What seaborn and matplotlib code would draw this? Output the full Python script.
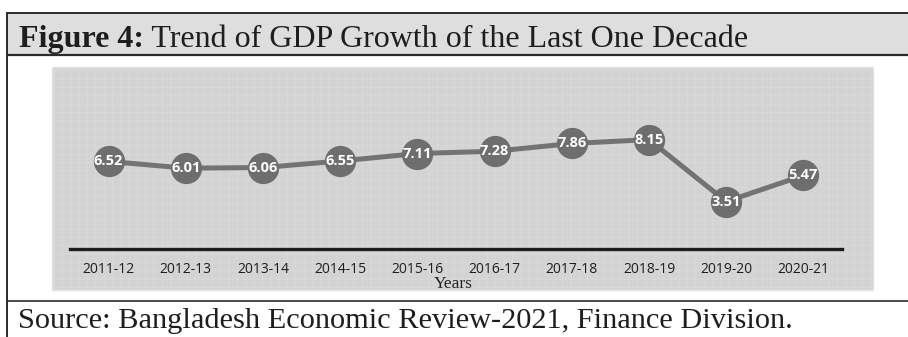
import matplotlib
matplotlib.use("Agg")
import matplotlib.pyplot as plt
from matplotlib.patches import Rectangle
from matplotlib.lines import Line2D
import seaborn as sns
import pandas as pd

# GDP growth (%) by fiscal year
years = ["2011-12", "2012-13", "2013-14", "2014-15", "2015-16",
         "2016-17", "2017-18", "2018-19", "2019-20", "2020-21"]
growth = [6.52, 6.01, 6.06, 6.55, 7.11, 7.28, 7.86, 8.15, 3.51, 5.47]

title_bold = "Figure 4:"
title_rest = " Trend of GDP Growth of the Last One Decade"
source_text = "Source: Bangladesh Economic Review-2021, Finance Division."
x_label = "Years"

df = pd.DataFrame({"year": years, "growth": growth})

sns.set_theme(style="white")
plt.rcParams["font.family"] = ["DejaVu Sans"]
plt.rcParams["hatch.linewidth"] = 0.6

W, H = 908, 337
fig = plt.figure(figsize=(W / 100, H / 100), dpi=100)
fig.patch.set_facecolor("white")


def fx(px):
    return px / W


def fy(py):
    return 1 - py / H


# title band with frame
fig.patches.append(Rectangle((fx(7), fy(55)), fx(908 - 7), (55 - 13) / H,
                             transform=fig.transFigure, facecolor="#dedede",
                             edgecolor="none", zorder=-3))
frame_kw = dict(transform=fig.transFigure, color="#2b2b2b", zorder=-1)
fig.lines.append(Line2D([fx(7), 1], [fy(13), fy(13)], lw=1.4, **frame_kw))
fig.lines.append(Line2D([fx(7), 1], [fy(55), fy(55)], lw=1.6, **frame_kw))
fig.lines.append(Line2D([fx(7), 1], [fy(301), fy(301)], lw=1.2, **frame_kw))
fig.lines.append(Line2D([fx(7), fx(7)], [fy(13), 0], lw=1.4, **frame_kw))

# chart panel background with a faint woven pattern
panel = (fx(52), fy(290))
panel_w, panel_h = fx(873 - 52), (290 - 67) / H
fig.patches.append(Rectangle(panel, panel_w, panel_h,
                             transform=fig.transFigure, facecolor="#d3d3d3",
                             edgecolor="#e4e4e4", lw=1.0, zorder=-3))
fig.patches.append(Rectangle(panel, panel_w, panel_h,
                             transform=fig.transFigure, facecolor="none",
                             edgecolor="#dadada", hatch="++", lw=0, zorder=-2))

# plotting area
ax_left, ax_right = 70, 842
ax_bottom, ax_top = 248.5, 248.5 - 10 * 13.36
ax = fig.add_axes([fx(ax_left), fy(ax_bottom), fx(ax_right - ax_left),
                   (ax_bottom - ax_top) / H])
ax.set_facecolor("none")
ax.set_zorder(1)

sns.lineplot(data=df, x="year", y="growth", sort=False, ax=ax,
             color="#737373", linewidth=3.6, marker="o", markersize=22.5,
             markeredgewidth=0, markerfacecolor="#6e6e6e", clip_on=False)

for i, v in enumerate(growth):
    ax.text(i, v, f"{v:.2f}", ha="center", va="center", color="white",
            fontsize=10.5, fontweight="bold", family=["Open Sans", "DejaVu Sans"],
            zorder=5)

ax.set_xlim(-0.5, len(years) - 0.5)
ax.set_ylim(0, 10)
ax.set_yticks([])
ax.set_xlabel("")
ax.set_ylabel("")
for s in ["left", "right", "top"]:
    ax.spines[s].set_visible(False)
ax.spines["bottom"].set_color("#1c1c1c")
ax.spines["bottom"].set_linewidth(2.4)
ax.tick_params(axis="x", length=0, pad=10, labelsize=10, colors="#1e1e1e")
for lab in ax.get_xticklabels():
    lab.set_family(["Open Sans", "DejaVu Sans"])

fig.text(fx(453), fy(288), x_label, ha="center", va="baseline",
         fontsize=12.5, family=["Liberation Serif"], color="#222222")

# title: bold lead-in followed by regular text
t1 = fig.text(fx(19), fy(47), title_bold, ha="left", va="baseline",
              fontsize=23, fontweight="bold", family=["Liberation Serif"],
              color="#1e1e1e")
fig.canvas.draw()
bb = t1.get_window_extent(renderer=fig.canvas.get_renderer())
fig.text(bb.x1 / W, fy(47), title_rest, ha="left", va="baseline",
         fontsize=23, family=["Liberation Serif"], color="#1e1e1e")

fig.text(fx(18), fy(328), source_text, ha="left", va="baseline",
         fontsize=21.9, family=["Liberation Serif"], color="#1e1e1e")

fig.savefig("out.png", dpi=100)
